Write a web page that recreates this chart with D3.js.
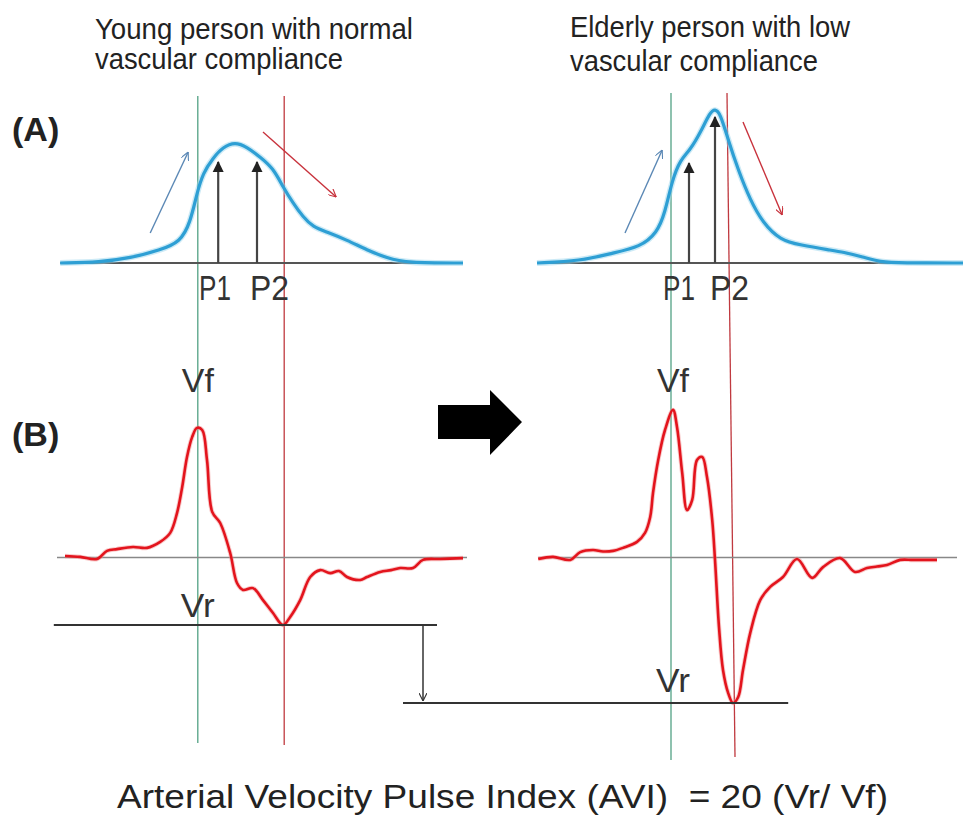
<!DOCTYPE html>
<html>
<head>
<meta charset="utf-8">
<script src="https://cdn.jsdelivr.net/npm/d3@7"></script>
<style>
  body { margin: 0; background: #fff; }
  text { font-family: "Liberation Sans", Arial, sans-serif; fill: #222; white-space: pre; }
</style>
</head>
<body>
<div id="chart"></div>
<script>
// --- data (time in ms, pulse amplitude in a.u., velocity in a.u.) ---
var pulseYoungT = [8, 108, 183, 258, 308, 333, 350, 365, 390, 415, 445, 475, 508, 540, 565, 590, 615, 640, 675, 725, 775, 825, 875, 1015];
var pulseYoungA = [0, 0.6, 3.2, 8.4, 13.6, 26, 45.5, 58.4, 68.2, 75.3, 78.6, 75.3, 68.8, 61.7, 49.4, 39, 29.9, 23.4, 20.1, 14.9, 8.4, 3.2, 0, 0];

var pulseOldT = [0, 108, 190, 258, 300, 320, 338, 358, 383, 408, 433, 445, 458, 478, 503, 533, 565, 608, 658, 733, 765, 815, 858, 908, 1065];
var pulseOldA = [0, 1.3, 6.5, 10.4, 19.5, 32.5, 53.9, 66.9, 73.4, 84.4, 98.1, 100, 97.4, 79.9, 60.4, 40.9, 26, 14.9, 11.7, 8.4, 7.1, 3.9, 0.6, 0, 0];

// P1 / P2 markers: [time, height]
var peaksYoung = [[403, 65.6], [500, 65.6]];
var peaksOld = [[380, 64.9], [445, 94.8]];
var peakLabels = ["P1", "P2"];

var velYoungT = [20, 58, 100, 125, 150, 190, 225, 258, 283, 300, 313, 325, 338, 350, 363, 375, 388, 408, 433, 450, 465, 490, 515, 540, 565, 583, 608, 633, 658, 683, 705, 725, 758, 775, 808, 835, 858, 890, 915, 958, 1015];
var velYoungV = [0.5, 0.2, -0.5, 2.2, 2.8, 3.5, 3.2, 5.2, 8.2, 14.8, 23.5, 33.5, 40.2, 43.2, 42.5, 32.5, 15.2, 11.5, 1.5, -8.5, -10.8, -10.2, -14.2, -18.5, -22.5, -19.8, -14.2, -6.5, -4.2, -5.2, -4.5, -6.5, -7.5, -6.5, -4.8, -4.2, -3.5, -3.5, -0.8, -0.5, -0.2];

var velOldT = [3, 40, 83, 108, 140, 165, 190, 215, 250, 270, 283, 290, 303, 320, 340, 350, 363, 375, 388, 400, 413, 425, 438, 445, 455, 465, 478, 490, 503, 515, 533, 558, 583, 615, 650, 688, 715, 758, 795, 825, 850, 875, 908, 940, 1000];
var velOldV = [-0.5, 0.2, -0.8, 1.8, 2.5, 2.0, 2.2, 3.2, 5.2, 8.2, 13.5, 21.5, 32.5, 42.5, 49.2, 43.5, 28.2, 15.8, 19.2, 32.5, 33.5, 26.8, 12.5, -0.8, -23.2, -37.5, -45.2, -48.5, -46.5, -37.5, -25.2, -14.2, -9.8, -6.5, -0.5, -6.8, -3.2, -0.2, -4.8, -3.5, -3.0, -2.5, -0.8, -0.8, -0.8];

// timing guide lines: [green (forward), red (reflected)]
var guideYoung = [352, 568];
var guideOld = [335, 485];

var titles = [["Young person with normal", "vascular compliance"], ["Elderly person with low", "vascular compliance"]];
var panelLabels = ["(A)", "(B)"];
var formula = "Arterial Velocity Pulse Index (AVI)  = 20 (Vr/ Vf)";

// --- layout ---
var W = 963, H = 816;
var svg = d3.select('#chart').append('svg').attr('width', W).attr('height', H);

var xL = d3.scaleLinear().domain([0, 1000]).range([57, 457]);
var xR = d3.scaleLinear().domain([0, 1000]).range([537, 937]);
var yA = d3.scaleLinear().domain([0, 100]).range([263, 109]);
var yB = d3.scaleLinear().domain([0, 50]).range([557.5, 407.5]);

var zip = function(ts, vs) { return ts.map(function(t, i) { return [t, vs[i]]; }); };

var defs = svg.append('defs');
defs.append('marker').attr('id', 'tri').attr('viewBox', '0 0 10 10')
  .attr('refX', 9).attr('refY', 5).attr('markerWidth', 5).attr('markerHeight', 6)
  .attr('orient', 'auto').attr('markerUnits', 'strokeWidth')
  .append('path').attr('d', 'M0,0 L10,5 L0,10 z').style('fill', '#222');
['open-blue', 'open-red', 'open-dark'].forEach(function(id, i) {
  var c = ['#5b88b5', '#c8323c', '#333'][i];
  defs.append('marker').attr('id', id).attr('viewBox', '0 0 10 10')
    .attr('refX', 10).attr('refY', 5).attr('markerWidth', 8).attr('markerHeight', 8)
    .attr('orient', 'auto').attr('markerUnits', 'userSpaceOnUse')
    .append('path').attr('d', 'M0,0 L10,5 L0,10').style('fill', 'none').style('stroke', c).style('stroke-width', 1.4);
});

// titles (the source font is narrow, so squeeze a taller size into the measured width)
[[95, 39, 318, 69, 248], [570, 37, 280, 71, 248]].forEach(function(p, i) {
  svg.append('text').attr('x', p[0]).attr('y', p[1]).attr('textLength', p[2])
    .attr('lengthAdjust', 'spacingAndGlyphs').style('font-size', '30px').text(titles[i][0]);
  svg.append('text').attr('x', p[0]).attr('y', p[3]).attr('textLength', p[4])
    .attr('lengthAdjust', 'spacingAndGlyphs').style('font-size', '30px').text(titles[i][1]);
});

// panel letters
svg.append('text').attr('x', 12).attr('y', 141).style('font-size', '34px').style('font-weight', 'bold').text(panelLabels[0]);
svg.append('text').attr('x', 12).attr('y', 446).style('font-size', '34px').style('font-weight', 'bold').text(panelLabels[1]);

// guide lines through both panels
var guides = [
  {x: xL, g: guideYoung, top: 96, bottomG: 743, bottomR: 745, slant: 0},
  {x: xR, g: guideOld, top: 93, bottomG: 760, bottomR: 757, slant: 10}
];
guides.forEach(function(d) {
  svg.append('line').attr('x1', d.x(d.g[0])).attr('x2', d.x(d.g[0]))
    .attr('y1', d.top).attr('y2', d.bottomG).style('stroke', '#52a184').style('stroke-width', 1.3);
  svg.append('line').attr('x1', d.x(d.g[1] - d.slant)).attr('x2', d.x(d.g[1] + d.slant))
    .attr('y1', d.top).attr('y2', d.bottomR).style('stroke', '#c0393f').style('stroke-width', 1.3);
});

// (A) pressure pulse waves
var lineA = function(x) {
  return d3.line().x(function(d) { return x(d[0]); }).y(function(d) { return yA(d[1]); }).curve(d3.curveBasis);
};
[[xL, pulseYoungT, pulseYoungA, peaksYoung], [xR, pulseOldT, pulseOldA, peaksOld]].forEach(function(p) {
  var x = p[0];
  svg.append('line').attr('x1', x(p[1][0])).attr('x2', x(p[1][p[1].length - 1]))
    .attr('y1', yA(0)).attr('y2', yA(0)).style('stroke', '#555').style('stroke-width', 2.2);
  svg.append('path').datum(zip(p[1], p[2])).attr('d', lineA(x))
    .style('fill', 'none').style('stroke', '#9ad6ee').style('stroke-width', 6).style('opacity', 0.5);
  svg.append('path').datum(zip(p[1], p[2])).attr('d', lineA(x))
    .style('fill', 'none').style('stroke', '#2e9fd4').style('stroke-width', 3.2);
  p[3].forEach(function(pk) {
    svg.append('line').attr('x1', x(pk[0])).attr('x2', x(pk[0]))
      .attr('y1', yA(0)).attr('y2', yA(pk[1]))
      .style('stroke', '#444').style('stroke-width', 2.2).attr('marker-end', 'url(#tri)');
  });
});

// P1/P2 labels
[[199, 250], [663, 710]].forEach(function(xs) {
  xs.forEach(function(xx, i) {
    svg.append('text').attr('x', xx).attr('y', 300).attr('textLength', i ? 39 : 32)
      .attr('lengthAdjust', 'spacingAndGlyphs').style('font-size', '35px').style('fill', '#333').text(peakLabels[i]);
  });
});

// thin direction arrows in (A): [scale, t0, a0, t1, a1, marker]
var dirArrows = [
  [xL, 233, 19.5, 328, 72.1, 'open-blue', '#5b88b5'],
  [xL, 515, 85.1, 698, 42.9, 'open-red', '#c8323c'],
  [xR, 220, 19.5, 313, 73.4, 'open-blue', '#5b88b5'],
  [xR, 515, 91.6, 613, 31.2, 'open-red', '#c8323c']
];
dirArrows.forEach(function(a) {
  svg.append('line').attr('x1', a[0](a[1])).attr('y1', yA(a[2]))
    .attr('x2', a[0](a[3])).attr('y2', yA(a[4]))
    .style('stroke', a[6]).style('stroke-width', 1.4).attr('marker-end', 'url(#' + a[5] + ')');
});

// (B) velocity waves
var lineB = function(x) {
  return d3.line().x(function(d) { return x(d[0]); }).y(function(d) { return yB(d[1]); })
    .curve(d3.curveCatmullRom.alpha(0.5));
};
var velSets = [[xL, velYoungT, velYoungV, [0, 1025]], [xR, velOldT, velOldV, [3, 1050]]];
velSets.forEach(function(p) {
  var x = p[0];
  svg.append('line').attr('x1', x(p[3][0])).attr('x2', x(p[3][1]))
    .attr('y1', yB(0)).attr('y2', yB(0)).style('stroke', '#888').style('stroke-width', 1.5);
  svg.append('path').datum(zip(p[1], p[2])).attr('d', lineB(x))
    .style('fill', 'none').style('stroke', '#f08a8a').style('stroke-width', 4.5).style('opacity', 0.45);
  svg.append('path').datum(zip(p[1], p[2])).attr('d', lineB(x))
    .style('fill', 'none').style('stroke', '#e3141d').style('stroke-width', 2.6)
    .style('stroke-linejoin', 'round');
});

// reflected-wave levels and the drop arrow between them
var vrYoung = d3.min(velYoungV), vrOld = d3.min(velOldV);
svg.append('line').attr('x1', xL(-8)).attr('x2', xL(950))
  .attr('y1', yB(vrYoung)).attr('y2', yB(vrYoung)).style('stroke', '#333').style('stroke-width', 2);
svg.append('line').attr('x1', xL(865)).attr('x2', xR(628))
  .attr('y1', yB(vrOld)).attr('y2', yB(vrOld)).style('stroke', '#333').style('stroke-width', 2);
svg.append('line').attr('x1', xL(915)).attr('x2', xL(915))
  .attr('y1', yB(vrYoung)).attr('y2', yB(vrOld) - 2)
  .style('stroke', '#333').style('stroke-width', 1.5).attr('marker-end', 'url(#open-dark)');

// Vf / Vr labels
[[xL, guideYoung[0], 392, 617], [xR, guideOld[0] + 5, 392, 692]].forEach(function(p) {
  svg.append('text').attr('x', p[0](p[1])).attr('y', p[2]).attr('text-anchor', 'middle')
    .attr('textLength', 32).attr('lengthAdjust', 'spacingAndGlyphs')
    .style('font-size', '33px').style('fill', '#333').text('Vf');
  svg.append('text').attr('x', p[0](p[1])).attr('y', p[3]).attr('text-anchor', 'middle')
    .attr('textLength', 34).attr('lengthAdjust', 'spacingAndGlyphs')
    .style('font-size', '33px').style('fill', '#333').text('Vr');
});

// big black arrow between the two (B) traces
svg.append('path')
  .attr('d', 'M438,405 L490,405 L490,390 L522,422 L490,455 L490,439 L438,439 Z')
  .style('fill', '#000');

// formula
svg.append('text').attr('x', 117).attr('y', 808).attr('textLength', 771)
  .attr('lengthAdjust', 'spacingAndGlyphs').style('font-size', '33px').style('fill', '#222').text(formula);
</script>
</body>
</html>
